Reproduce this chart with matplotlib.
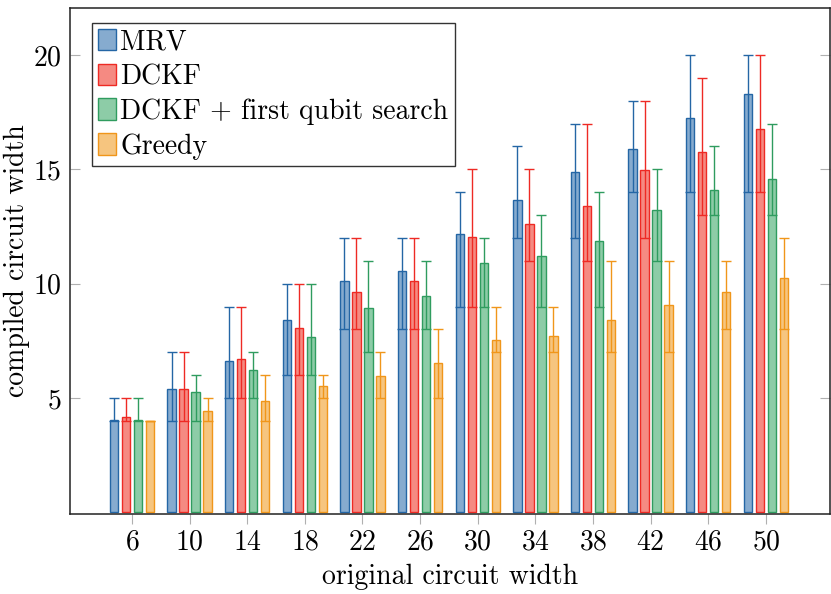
import numpy as np
import matplotlib
matplotlib.use("Agg")
import matplotlib.pyplot as plt

plt.rcParams['font.family'] = 'cmr10'
plt.rcParams['mathtext.fontset'] = 'cm'
plt.rcParams['axes.formatter.use_mathtext'] = True

widths = [6, 10, 14, 18, 22, 26, 30, 34, 38, 42, 46, 50]

# mean, min, max of compiled width per method
mrv_mean = [4.05, 5.38, 6.64, 8.39, 10.12, 10.57, 12.18, 13.65, 14.87, 15.88, 17.24, 18.29]
mrv_min = [4, 4, 5, 6, 8, 8, 9, 12, 12, 14, 14, 14]
mrv_max = [5, 7, 9, 10, 12, 12, 14, 16, 17, 18, 20, 20]

dckf_mean = [4.15, 5.38, 6.69, 8.05, 9.65, 10.12, 12.02, 12.59, 13.38, 14.97, 15.77, 16.74]
dckf_min = [4, 4, 5, 6, 8, 8, 9, 11, 11, 12, 13, 14]
dckf_max = [5, 7, 9, 10, 12, 12, 15, 15, 17, 18, 19, 20]

fqs_mean = [4.06, 5.25, 6.23, 7.66, 8.95, 9.46, 10.92, 11.22, 11.87, 13.21, 14.08, 14.56]
fqs_min = [4, 4, 5, 6, 7, 8, 9, 9, 9, 11, 13, 13]
fqs_max = [5, 6, 7, 10, 11, 11, 12, 13, 14, 15, 16, 17]

greedy_mean = [4.0, 4.44, 4.88, 5.54, 5.95, 6.55, 7.54, 7.70, 8.40, 9.05, 9.65, 10.26]
greedy_min = [4, 4, 4, 5, 5, 5, 7, 7, 7, 7, 8, 8]
greedy_max = [4, 5, 6, 6, 7, 8, 9, 9, 11, 11, 11, 12]

series = [
    ("MRV", mrv_mean, mrv_min, mrv_max, '#86abcf', '#2466a5'),
    ("DCKF", dckf_mean, dckf_min, dckf_max, '#f58a82', '#ee2a24'),
    ("DCKF + first qubit search", fqs_mean, fqs_min, fqs_max, '#8dcca7', '#2f9c5f'),
    ("Greedy", greedy_mean, greedy_min, greedy_max, '#f6c57f', '#f0961a'),
]

fs = 20

fig = plt.figure(figsize=(8.31, 5.94), dpi=100)
ax = fig.add_axes([70 / 831, 1 - 514 / 594, 760 / 831, 506 / 594])

x = np.array(widths, dtype=float)
offsets = [-1.25, -0.417, 0.417, 1.25]
for (label, mean, lo, hi, fill, edge), off in zip(series, offsets):
    mean = np.array(mean)
    yerr = [mean - np.array(lo), np.array(hi) - mean]
    ax.bar(x + off, mean, width=0.58, color=fill, edgecolor=edge, linewidth=1.0, label=label, zorder=2)
    ax.errorbar(x + off, mean, yerr=yerr, fmt='none', ecolor=edge, elinewidth=1.0,
                capsize=3.5, capthick=1.0, zorder=3)

ax.set_xlim(1.7, 54.45)
ax.set_ylim(-0.07, 22.05)
ax.set_xticks(widths)
ax.set_yticks([5, 10, 15, 20])
ax.tick_params(axis='x', direction='out', length=7, color='#b0b0b0', labelsize=fs, pad=4)
ax.tick_params(axis='y', direction='in', length=7, color='#b0b0b0', labelsize=fs, right=True, pad=6)
for s in ax.spines.values():
    s.set_color('#222222')
    s.set_linewidth(1.1)

ax.set_xlabel("original circuit width", fontsize=fs, labelpad=6)
ax.set_ylabel("compiled circuit width", fontsize=fs, labelpad=2)

leg = ax.legend(loc='upper left', bbox_to_anchor=(0.029, 0.971), fontsize=fs, frameon=True,
                fancybox=False, edgecolor='#333333', framealpha=1, borderaxespad=0,
                handlelength=0.65, handleheight=0.82, handletextpad=0.15,
                labelspacing=0.3, borderpad=0.22)
leg.get_frame().set_linewidth(1.0)

fig.savefig("out.png", dpi=100)
